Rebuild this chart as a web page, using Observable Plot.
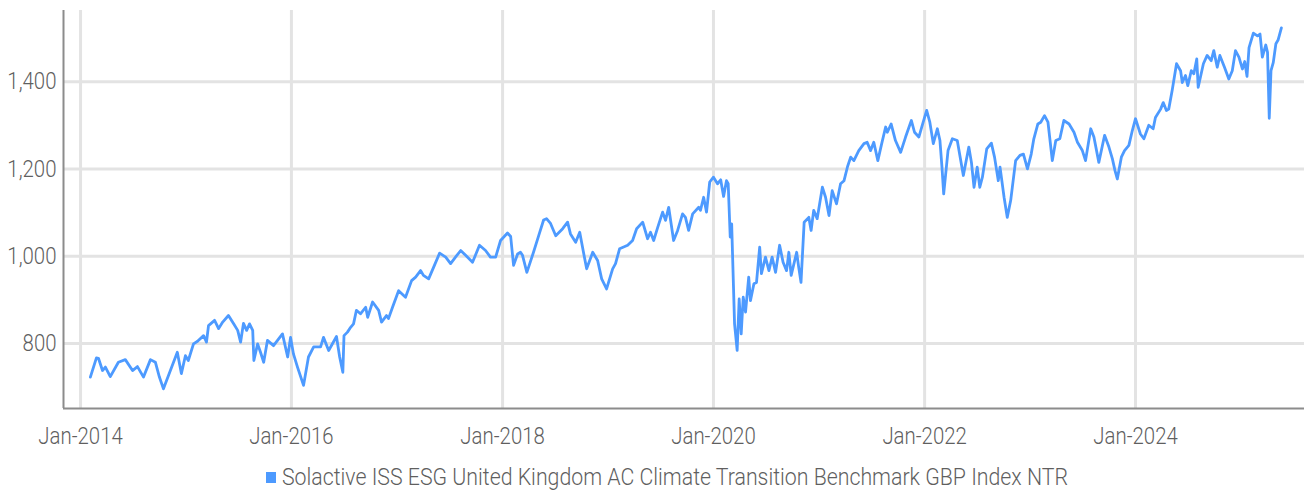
<!DOCTYPE html>
<html>
<head>
<meta charset="utf-8">
<script src="https://cdn.jsdelivr.net/npm/d3@7"></script>
<script src="https://cdn.jsdelivr.net/npm/@observablehq/plot@0.6"></script>
<style>
  html, body { margin: 0; padding: 0; background: #fff; }
  #wrap { width: 1304px; }
  #legend { position: relative; height: 35px; }
</style>
</head>
<body>
<div id="wrap"></div>
<script>
const FONT = 'Roboto, "Liberation Sans", sans-serif';
const TEXT_COLOR = "#5f5f5f";
const LINE_COLOR = "#4d9aff";
const seriesName = "Solactive ISS ESG United Kingdom AC Climate Transition Benchmark GBP Index NTR";

const yTicks = [800, 1000, 1200, 1400];
const xTickDates = ["2014-01-01", "2016-01-01", "2018-01-01", "2020-01-01", "2022-01-01", "2024-01-01"];

const dates = [
"2014-02-04","2014-02-25","2014-03-04","2014-03-18","2014-03-28","2014-04-14","2014-05-12","2014-06-05","2014-06-30","2014-07-17",
"2014-08-07","2014-08-31","2014-09-17","2014-10-01","2014-10-15","2014-11-08","2014-12-02","2014-12-16","2014-12-30","2015-01-09",
"2015-01-27","2015-02-10","2015-03-03","2015-03-13","2015-03-20","2015-04-10","2015-04-24","2015-05-08","2015-05-28","2015-06-15",
"2015-06-29","2015-07-09","2015-07-19","2015-07-30","2015-08-09","2015-08-20","2015-08-24","2015-09-06","2015-09-16","2015-09-27",
"2015-10-10","2015-10-31","2015-12-01","2015-12-19","2015-12-29","2016-01-08","2016-01-22","2016-02-12","2016-02-29","2016-03-18",
"2016-04-11","2016-04-21","2016-05-09","2016-06-05","2016-06-16","2016-06-27","2016-07-01","2016-07-13","2016-07-24","2016-08-03",
"2016-08-13","2016-08-27","2016-09-14","2016-09-21","2016-10-08","2016-10-29","2016-11-08","2016-11-25","2016-12-02","2016-12-16",
"2017-01-06","2017-01-30","2017-02-20","2017-03-06","2017-03-23","2017-04-02","2017-04-20","2017-05-10","2017-05-28","2017-06-18",
"2017-07-05","2017-07-22","2017-08-09","2017-08-26","2017-09-19","2017-10-13","2017-11-03","2017-11-20","2017-12-08","2017-12-25",
"2018-01-18","2018-01-29","2018-02-08","2018-02-22","2018-03-04","2018-03-11","2018-03-26","2018-04-18","2018-05-06","2018-05-23",
"2018-06-02","2018-06-16","2018-07-04","2018-07-28","2018-08-14","2018-08-24","2018-09-11","2018-09-25","2018-10-08","2018-10-19",
"2018-11-09","2018-11-26","2018-12-10","2018-12-27","2019-01-17","2019-01-27","2019-02-10","2019-03-10","2019-03-27","2019-04-10",
"2019-05-01","2019-05-18","2019-05-28","2019-06-08","2019-06-22","2019-07-09","2019-07-19","2019-07-30","2019-08-16","2019-08-30",
"2019-09-16","2019-09-26","2019-10-07","2019-10-21","2019-11-11","2019-11-17","2019-11-28","2019-12-08","2019-12-19","2020-01-01",
"2020-01-15","2020-01-26","2020-02-05","2020-02-15","2020-02-21","2020-02-28","2020-03-04","2020-03-14","2020-03-23","2020-03-30",
"2020-04-06","2020-04-13","2020-04-21","2020-05-02","2020-05-08","2020-05-20","2020-05-29","2020-06-09","2020-06-15","2020-06-29",
"2020-07-11","2020-07-22","2020-08-03","2020-08-17","2020-08-29","2020-09-10","2020-09-18","2020-09-26","2020-10-15","2020-10-22",
"2020-10-30","2020-11-10","2020-11-26","2020-12-04","2020-12-13","2020-12-25","2021-01-12","2021-01-23","2021-02-04","2021-02-15",
"2021-03-02","2021-03-16","2021-03-28","2021-04-09","2021-04-20","2021-05-01","2021-05-18","2021-06-05","2021-06-16","2021-06-28",
"2021-07-09","2021-07-23","2021-08-04","2021-08-19","2021-08-25","2021-09-07","2021-09-22","2021-10-10","2021-10-27","2021-11-16",
"2021-11-27","2021-12-12","2021-12-27","2022-01-08","2022-01-19","2022-01-31","2022-02-14","2022-02-23","2022-03-02","2022-03-08",
"2022-03-23","2022-04-07","2022-04-24","2022-05-03","2022-05-15","2022-06-03","2022-06-12","2022-06-21","2022-07-02","2022-07-11",
"2022-07-20","2022-08-04","2022-08-20","2022-08-31","2022-09-13","2022-09-19","2022-10-03","2022-10-14","2022-10-26","2022-11-12",
"2022-11-27","2022-12-09","2022-12-23","2023-01-05","2023-01-14","2023-01-28","2023-02-07","2023-02-20","2023-03-04","2023-03-19",
"2023-03-31","2023-04-14","2023-04-28","2023-05-16","2023-06-02","2023-06-14","2023-07-01","2023-07-12","2023-07-30","2023-08-10",
"2023-08-27","2023-09-16","2023-10-01","2023-10-13","2023-10-22","2023-10-30","2023-11-13","2023-11-24","2023-12-09","2023-12-21",
"2024-01-01","2024-01-18","2024-01-30","2024-02-16","2024-03-02","2024-03-10","2024-03-28","2024-04-06","2024-04-17","2024-04-25",
"2024-05-07","2024-05-22","2024-06-05","2024-06-11","2024-06-22","2024-06-30","2024-07-12","2024-07-21","2024-07-31","2024-08-05",
"2024-08-23","2024-09-05","2024-09-19","2024-09-28","2024-10-10","2024-10-19","2024-11-04","2024-11-19","2024-12-01","2024-12-12",
"2024-12-24","2025-01-05","2025-01-13","2025-01-21","2025-01-28","2025-02-12","2025-02-26","2025-03-07","2025-03-15","2025-03-27",
"2025-04-02","2025-04-08","2025-04-14","2025-04-22","2025-05-01","2025-05-09","2025-05-20"
];

const values = [
723,767,766,738,746,724,757,763,738,747,
723,763,757,723,696,738,780,731,772,761,
799,805,818,803,841,853,834,849,864,845,
830,803,846,830,845,830,761,799,780,757,
807,795,822,769,814,776,746,704,769,792,
792,814,784,816,769,734,818,826,837,845,
876,868,883,860,895,876,849,864,857,883,
921,906,944,952,967,956,948,979,1007,998,
983,998,1013,1002,986,1025,1013,998,998,1036,
1053,1045,979,1005,1009,1002,963,1009,1047,1083,
1086,1075,1047,1063,1078,1051,1032,1055,1009,971,
1009,990,948,925,971,983,1017,1025,1036,1063,
1078,1040,1055,1036,1066,1101,1082,1112,1036,1059,
1097,1089,1059,1097,1112,1105,1135,1101,1170,1181,
1166,1175,1137,1173,1166,1044,1074,845,784,902,
822,906,872,952,898,937,940,1021,960,998,
967,998,963,1025,986,967,1009,956,1009,975,
940,1078,1089,1059,1105,1086,1158,1135,1093,1150,
1120,1166,1173,1205,1227,1219,1242,1258,1261,1242,
1261,1219,1254,1296,1284,1303,1265,1238,1273,1311,
1284,1273,1307,1334,1307,1258,1292,1265,1204,1143,
1242,1269,1265,1231,1185,1250,1215,1158,1204,1158,
1181,1246,1259,1227,1173,1204,1135,1089,1128,1219,
1231,1234,1200,1234,1269,1303,1307,1322,1307,1219,
1265,1269,1311,1303,1284,1261,1242,1219,1292,1273,
1215,1277,1250,1223,1196,1177,1227,1242,1254,1288,
1315,1280,1269,1300,1292,1318,1337,1352,1334,1337,
1380,1441,1425,1398,1414,1391,1425,1418,1452,1387,
1441,1460,1448,1471,1433,1460,1433,1406,1425,1471,
1456,1429,1446,1412,1478,1511,1505,1509,1456,1484,
1467,1316,1425,1444,1487,1496,1523
];

const data = dates.map((d, i) => ({date: new Date(d), value: values[i]}));
const xTicks = xTickDates.map(d => new Date(d));
const xDomain = [new Date("2013-11-03"), new Date("2025-08-08")];
const yDomain = [651, 1563];

const chart = Plot.plot({
  width: 1304,
  height: 455,
  marginLeft: 63,
  marginRight: 0,
  marginTop: 10,
  marginBottom: 47,
  style: {fontFamily: FONT, fontSize: "24px", fontWeight: 300, color: TEXT_COLOR, background: "#fff", overflow: "visible"},
  x: {type: "utc", domain: xDomain, label: null},
  y: {domain: yDomain, label: null},
  marks: [
    Plot.gridY(yTicks, {stroke: "#e3e3e3", strokeOpacity: 1, strokeWidth: 3}),
    Plot.gridX(xTicks, {stroke: "#e3e3e3", strokeOpacity: 1, strokeWidth: 3}),
    Plot.axisY(yTicks, {label: null, tickSize: 0, tickPadding: 7, tickFormat: d3.format(","), fontSize: 24, fill: TEXT_COLOR}),
    Plot.axisX(xTicks, {label: null, tickSize: 0, tickPadding: 18, tickFormat: d3.utcFormat("%b-%Y"), fontSize: 24, fill: TEXT_COLOR}),
    Plot.ruleX([xDomain[0]], {stroke: "#8c8c8c", strokeWidth: 2}),
    Plot.ruleY([yDomain[0]], {stroke: "#8c8c8c", strokeWidth: 2}),
    Plot.line(data, {x: "date", y: "value", stroke: LINE_COLOR, strokeWidth: 2.8, strokeLinejoin: "round"})
  ]
});

const wrap = document.getElementById("wrap");
wrap.appendChild(chart);

// condense axis label glyphs horizontally (the reference uses a condensed face)
const SQUEEZE = 0.85;
chart.querySelectorAll("text").forEach(t => {
  const len = t.getComputedTextLength();
  if (len > 0) {
    t.setAttribute("textLength", (len * SQUEEZE).toFixed(2));
    t.setAttribute("lengthAdjust", "spacingAndGlyphs");
  }
});

const legend = document.createElement("div");
legend.id = "legend";
legend.style.fontFamily = FONT;
legend.style.fontWeight = "300";
legend.style.fontSize = "24px";
legend.style.color = TEXT_COLOR;
const sw = document.createElement("span");
Object.assign(sw.style, {position: "absolute", left: "266px", top: "17px", width: "10px", height: "11px", background: LINE_COLOR});
const lbl = document.createElement("span");
Object.assign(lbl.style, {position: "absolute", left: "282px", top: "10px", lineHeight: "24px", whiteSpace: "nowrap", transformOrigin: "0 0"});
lbl.textContent = seriesName;
legend.appendChild(sw);
legend.appendChild(lbl);
wrap.appendChild(legend);
const natural = lbl.getBoundingClientRect().width;
lbl.style.transform = `scaleX(${786 / natural})`;
</script>
</body>
</html>
